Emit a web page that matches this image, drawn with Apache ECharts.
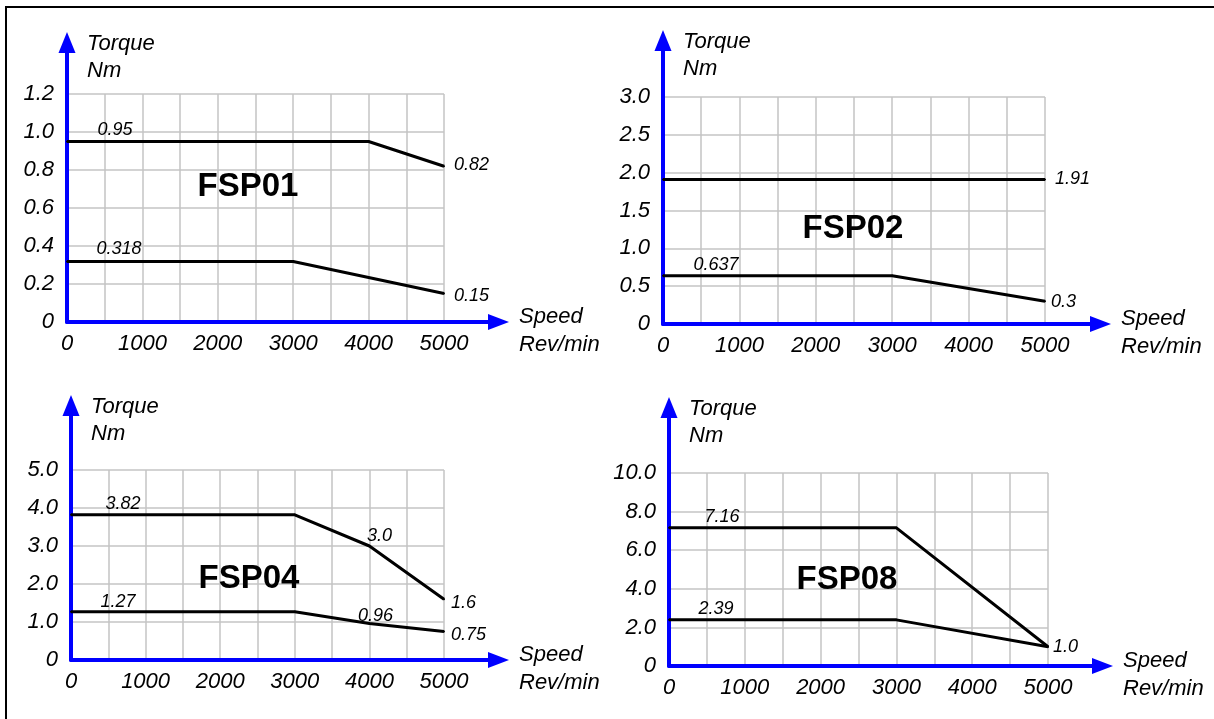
<!DOCTYPE html>
<html>
<head>
<meta charset="utf-8">
<script src="https://cdn.jsdelivr.net/npm/echarts@6/dist/echarts.min.js"></script>
<style>
html,body{margin:0;padding:0;background:#fff;}
#main{width:1214px;height:719px;}
</style>
</head>
<body>
<div id="main"></div>
<script>
// ---------- data ----------
const speedTickLabels = ['0', '1000', '2000', '3000', '4000', '5000'];

const fsp01TickLabels = ['0', '0.2', '0.4', '0.6', '0.8', '1.0', '1.2'];
const fsp01Peak = [[0, 0.95], [4000, 0.95], [5000, 0.82]];
const fsp01PeakText = ['0.95', null, '0.82'];
const fsp01Rated = [[0, 0.318], [3000, 0.318], [5000, 0.15]];
const fsp01RatedText = ['0.318', null, '0.15'];

const fsp02TickLabels = ['0', '0.5', '1.0', '1.5', '2.0', '2.5', '3.0'];
const fsp02Peak = [[0, 1.91], [5000, 1.91]];
const fsp02PeakText = [null, '1.91'];
const fsp02Rated = [[0, 0.637], [3000, 0.637], [5000, 0.3]];
const fsp02RatedText = ['0.637', null, '0.3'];

const fsp04TickLabels = ['0', '1.0', '2.0', '3.0', '4.0', '5.0'];
const fsp04Peak = [[0, 3.82], [3000, 3.82], [4000, 3.0], [5000, 1.6]];
const fsp04PeakText = ['3.82', null, '3.0', '1.6'];
const fsp04Rated = [[0, 1.27], [3000, 1.27], [4000, 0.96], [5000, 0.75]];
const fsp04RatedText = ['1.27', null, '0.96', '0.75'];

const fsp08TickLabels = ['0', '2.0', '4.0', '6.0', '8.0', '10.0'];
const fsp08Peak = [[0, 7.16], [3000, 7.16], [5000, 1.0]];
const fsp08PeakText = ['7.16', null, '1.0'];
const fsp08Rated = [[0, 2.39], [3000, 2.39], [5000, 1.0]];
const fsp08RatedText = ['2.39', null, null];

// ---------- layout / style ----------
const FONT = 'Liberation Sans, Arial, sans-serif';
const panels = [
  { title: 'FSP01', yMax: 1.2, yStep: 0.2, ticks: fsp01TickLabels,
    peak: fsp01Peak, peakText: fsp01PeakText, rated: fsp01Rated, ratedText: fsp01RatedText,
    ax: 67, ay: 322, top: 94, right: 444, yTip: 32, xTip: 509, titleAt: [248, 187],
    peakLab: [['top', 48, 0, 1.5], null, ['right', 0, -1, 9]],
    ratedLab: [['top', 52, 0, 2.5], null, ['right', 0, 2, 9]] },
  { title: 'FSP02', yMax: 3, yStep: 0.5, ticks: fsp02TickLabels,
    peak: fsp02Peak, peakText: fsp02PeakText, rated: fsp02Rated, ratedText: fsp02RatedText,
    ax: 663, ay: 324, top: 97, right: 1045, yTip: 30, xTip: 1111, titleAt: [853, 229],
    peakLab: [null, ['right', 0, 0, 9]],
    ratedLab: [['top', 53, 0, 0.5], null, ['right', 0, 1, 5]] },
  { title: 'FSP04', yMax: 5, yStep: 1, ticks: fsp04TickLabels,
    peak: fsp04Peak, peakText: fsp04PeakText, rated: fsp04Rated, ratedText: fsp04RatedText,
    ax: 71, ay: 660, top: 470, right: 444, yTip: 395, xTip: 509, titleAt: [249, 579],
    peakLab: [['top', 52, 0, 0.5], null, ['top', 10, 0, 0.5], ['right', 0, 4, 6]],
    ratedLab: [['top', 47, 0, 0], null, ['top', 6, 2, 0], ['right', 0, 3, 6]] },
  { title: 'FSP08', yMax: 10, yStep: 2, ticks: fsp08TickLabels,
    peak: fsp08Peak, peakText: fsp08PeakText, rated: fsp08Rated, ratedText: fsp08RatedText,
    ax: 669, ay: 666, top: 473, right: 1048, yTip: 397, xTip: 1113, titleAt: [847, 580],
    peakLab: [['top', 53, 0, 0.5], null, ['right', 0, 0, 4]],
    ratedLab: [['top', 47, 0, 0.5], null, null] }
];

const gridLine = { color: '#c4c4c4', width: 1.5 };
const tickFont = { color: '#000', fontSize: 22, fontStyle: 'italic', fontFamily: FONT };
const ARROW_LEN = 21, ARROW_W = 16;

const grids = [], xAxes = [], yAxes = [], series = [], graphics = [];

graphics.push({ type: 'rect', shape: { x: 6, y: 7, width: 1230, height: 740 },
  style: { fill: 'none', stroke: '#000', lineWidth: 2 }, silent: true });

function makeData(points, texts, labs) {
  return points.map((p, i) => {
    const t = texts[i];
    const l = labs[i];
    if (!t || !l) return { value: p, label: { show: false } };
    return {
      value: p,
      label: {
        show: true, formatter: t, position: l[0], offset: [l[1], l[2]], distance: l[3],
        color: '#000', fontSize: 18, fontStyle: 'italic', fontFamily: FONT
      }
    };
  });
}

panels.forEach((p, k) => {
  const gi = k * 2, go = k * 2 + 1;
  grids.push({ left: p.ax, top: p.top, width: p.right - p.ax, height: p.ay - p.top });
  const oRight = p.xTip - ARROW_LEN / 2, oTop = p.yTip + ARROW_LEN / 2;
  grids.push({ left: p.ax, top: oTop, width: oRight - p.ax, height: p.ay - oTop });

  xAxes.push({
    gridIndex: gi, type: 'value', min: 0, max: 5000, interval: 1000,
    axisLine: { show: false }, axisTick: { show: false },
    axisLabel: Object.assign({ margin: 11, formatter: (v, i) => speedTickLabels[i] }, tickFont),
    splitLine: { show: true, lineStyle: gridLine },
    minorTick: { show: false, splitNumber: 2 },
    minorSplitLine: { show: true, lineStyle: gridLine }
  });
  xAxes.push({
    gridIndex: go, type: 'value', min: 0, max: 1,
    axisLine: { show: true, onZero: false, lineStyle: { color: '#0000ff', width: 4 },
      symbol: ['none', 'triangle'], symbolSize: [ARROW_W, ARROW_LEN] },
    axisTick: { show: false }, axisLabel: { show: false }, splitLine: { show: false },
    name: 'Speed\nRev/min', nameLocation: 'end', nameGap: p.xTip - oRight + 10,
    nameTextStyle: { color: '#000', fontSize: 22, fontStyle: 'italic', fontFamily: FONT,
      lineHeight: 28, align: 'left', verticalAlign: 'top', padding: [-19, 0, 0, 0] }
  });
  yAxes.push({
    gridIndex: gi, type: 'value', min: 0, max: p.yMax, interval: p.yStep,
    axisLine: { show: false }, axisTick: { show: false },
    axisLabel: Object.assign({ margin: 13, padding: [6, 0, 0, 0],
      formatter: ((t) => (v, i) => t[i])(p.ticks) }, tickFont),
    splitLine: { show: true, lineStyle: gridLine }
  });
  yAxes.push({
    gridIndex: go, type: 'value', min: 0, max: 1,
    axisLine: { show: true, onZero: false, lineStyle: { color: '#0000ff', width: 4 },
      symbol: ['none', 'triangle'], symbolSize: [ARROW_W + 1, ARROW_LEN] },
    axisTick: { show: false }, axisLabel: { show: false }, splitLine: { show: false },
    name: 'Torque\nNm', nameLocation: 'end', nameGap: oTop - p.yTip + 2,
    nameTextStyle: { color: '#000', fontSize: 22, fontStyle: 'italic', fontFamily: FONT,
      lineHeight: 27, align: 'left', verticalAlign: 'top', padding: [0, 0, 0, 20] }
  });

  [[p.peak, p.peakText, p.peakLab], [p.rated, p.ratedText, p.ratedLab]].forEach(([pts, txt, lab]) => {
    series.push({
      type: 'line', xAxisIndex: gi, yAxisIndex: gi,
      symbol: 'circle', symbolSize: 2, showSymbol: true,
      itemStyle: { color: '#000' },
      lineStyle: { color: '#000', width: 3 }, z: 5,
      emphasis: { disabled: true },
      data: makeData(pts, txt, lab)
    });
  });

  graphics.push({
    type: 'text', x: p.titleAt[0], y: p.titleAt[1], silent: true, z: 20,
    style: { text: p.title, fill: '#000', font: 'bold 33px ' + FONT,
      textAlign: 'center', textVerticalAlign: 'middle', align: 'center', verticalAlign: 'middle' }
  });
});

const chart = echarts.init(document.getElementById('main'), null, { renderer: 'canvas' });
chart.setOption({
  animation: false,
  backgroundColor: '#fff',
  grid: grids, xAxis: xAxes, yAxis: yAxes, series: series, graphic: graphics
});
</script>
</body>
</html>
